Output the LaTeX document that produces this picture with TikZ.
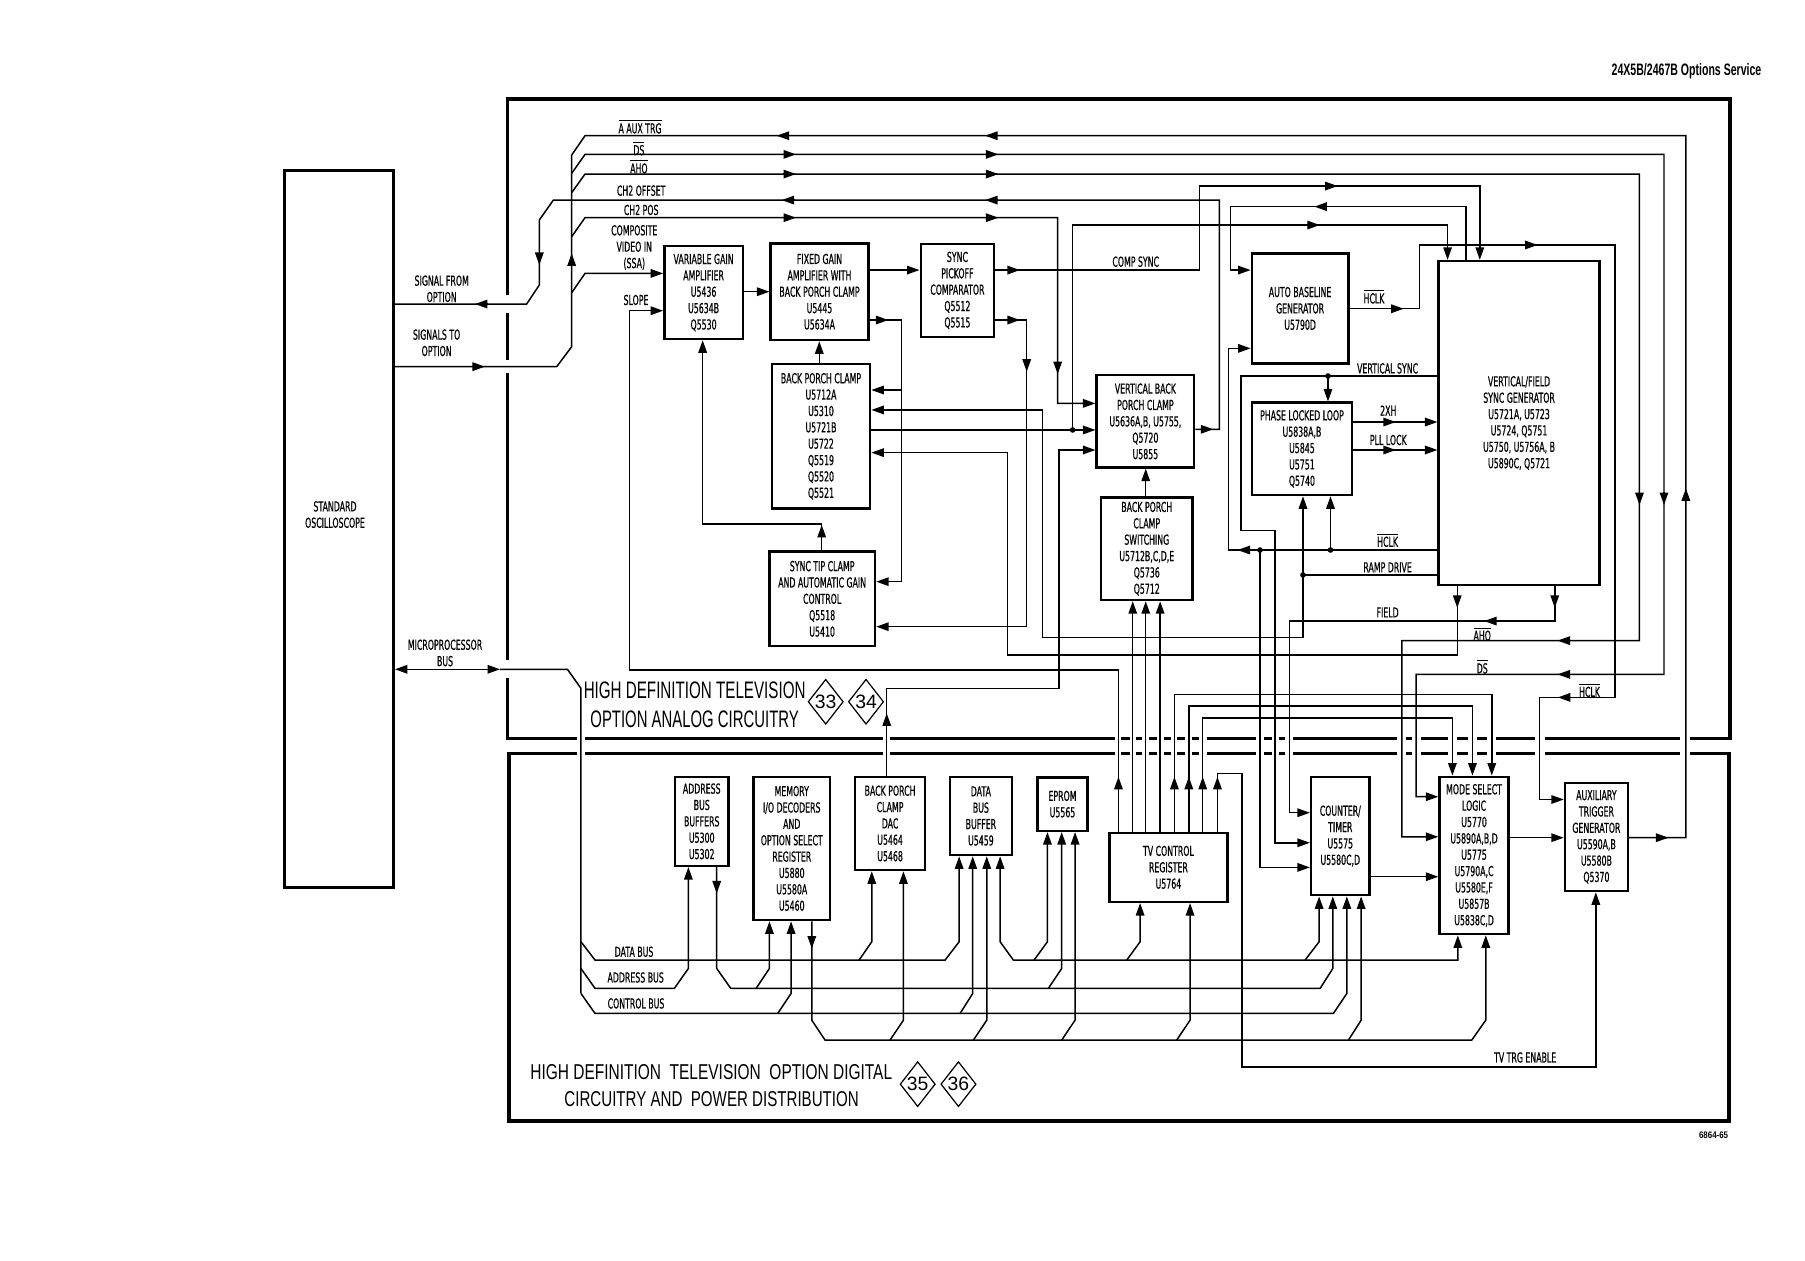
\documentclass[tikz,border=0pt]{standalone}
\usepackage{fontspec}
\newfontfamily\dinfont[FakeStretch=0.57,FakeBold=0.6]{DejaVu Sans}
\newfontfamily\ttlfont{Liberation Sans}
\usetikzlibrary{arrows.meta,shapes.geometric}
\newcommand\ovl[1]{$\overline{\hbox{#1}}$}
\tikzset{
  >={Triangle[length=2.5mm,width=1.7mm]},
  sz/.style 2 args={minimum width=#1*0.023cm,minimum height=#2*0.023cm},
  blk/.style={draw,line width=1.4pt,align=center,inner sep=0pt,font=\dinfont\fontsize{7.8}{9.3}\selectfont},
  lbl/.style={align=center,inner sep=0pt,font=\dinfont\fontsize{7.8}{9.3}\selectfont},
  sig/.style={line width=.85pt},
  tip/.style={sig,->},
  frame/.style={line width=2pt},
  pg/.style={diamond,draw,line width=.7pt,inner sep=0pt,minimum width=0.69cm,minimum height=0.9cm,font=\ttlfont\fontsize{11}{11}\selectfont}
}
\begin{document}
\begin{tikzpicture}[x=0.023cm,y=-0.023cm]
\useasboundingbox (0,0) rectangle (1568,1095);

% header and figure number
\node[anchor=base east,inner sep=0pt] (hdr) at (1530.4,65.3) {\resizebox{2.99cm}{0.24cm}{\ttlfont\bfseries 24X5B/2467B Options Service}};
\node[anchor=base,inner sep=0pt] (fignum) at (1488.6,988.9) {\resizebox{0.58cm}{0.133cm}{\ttlfont\bfseries 6864-65}};

% frames of the two boards
\draw[frame] (441,256.3) -- (441,86) -- (1503,86) -- (1503,641.5) -- (1467.7,641.5);
\draw[frame] (441,272.2) -- (441,312.7);
\draw[frame] (441,324.3) -- (441,573.3);
\draw[frame] (441,589.3) -- (441,641.5) -- (501,641.5);
\draw[frame] (501,654.5) -- (442,654.5) -- (442,974) -- (1502,974) -- (1502,654.5) -- (1467.7,654.5);
\foreach \a/\b in {508.2/767.4,773.2/968.7,973.9/981.7,986.6/991.8,998.5/1004.9,1011.2/1017.3,1022.8/1029.5,1035.3/1041.9,1048.9/1090.8,1098.4/1104.8,1111.1/1116.4,1123.6/1213.4,1221.5/1226.4,1234.2/1257.7,1265.5/1275.5,1283/1292,1299.4/1333.6,1341.7/1459.5}{
  \draw[frame] (\a,641.5) -- (\b,641.5);
  \draw[frame] (\a,654.5) -- (\b,654.5);
}

% blocks
\node[blk,sz={95}{623}] (osc) at (294.5,459.5) {};
\node[lbl] (osctxt) at (291,447) {STANDARD\\OSCILLOSCOPE};
\node[blk,sz={68.1}{80.8}] (vga) at (611.2,254.1) {VARIABLE GAIN\\AMPLIFIER\\U5436\\U5634B\\Q5530};
\node[blk,sz={84.8}{84}] (fg) at (711.9,253.4) {FIXED GAIN\\AMPLIFIER WITH\\BACK PORCH CLAMP\\U5445\\U5634A};
\node[blk,sz={63.7}{80.5}] (spc) at (831.7,252.3) {SYNC\\PICKOFF\\COMPARATOR\\Q5512\\Q5515};
\node[blk,sz={85.3}{125.3}] (bpc) at (713.2,379) {BACK PORCH CLAMP\\U5712A\\U5310\\U5721B\\U5722\\Q5519\\Q5520\\Q5521};
\node[blk,sz={91.8}{82}] (stc) at (714.2,520.2) {SYNC TIP CLAMP\\AND AUTOMATIC GAIN\\CONTROL\\Q5518\\U5410};
\node[blk,sz={84.6}{80.1}] (vbpc) at (995,366) {VERTICAL BACK\\PORCH CLAMP\\U5636A,B, U5755,\\Q5720\\U5855};
\node[blk,sz={79.3}{89.2}] (bpcs) at (996.2,476.6) {BACK PORCH\\CLAMP\\SWITCHING\\U5712B,C,D,E\\Q5736\\Q5712};
\node[blk,sz={83.8}{95.5}] (abg) at (1129.4,267.9) {AUTO BASELINE\\GENERATOR\\U5790D};
\node[blk,sz={86.9}{80.2}] (pll) at (1131,389.9) {PHASE LOCKED LOOP\\U5838A,B\\U5845\\U5751\\Q5740};
\node[blk,sz={139.6}{281.4}] (vfsg) at (1319.6,367.5) {VERTICAL/FIELD\\SYNC GENERATOR\\U5721A, U5723\\U5724, Q5751\\U5750, U5756A, B\\U5890C, Q5721};
\node[blk,sz={46.3}{77.3}] (abb) at (609.6,713.5) {ADDRESS\\BUS\\BUFFERS\\U5300\\U5302};
\node[blk,sz={66.6}{124.5}] (mio) at (687.8,737) {MEMORY\\I/O DECODERS\\AND\\OPTION SELECT\\REGISTER\\U5880\\U5580A\\U5460};
\node[blk,sz={60.8}{81}] (dac) at (773.2,715.3) {BACK PORCH\\CLAMP\\DAC\\U5464\\U5468};
\node[blk,sz={53.6}{68}] (dbb) at (852.1,708.8) {DATA\\BUS\\BUFFER\\U5459};
\node[blk,sz={43.7}{46.4}] (eprom) at (923,698.5) {EPROM\\U5565};
\node[blk,sz={102.6}{60}] (tvcr) at (1015,753.4) {TV CONTROL\\REGISTER\\U5764};
\node[blk,sz={50.6}{102.8}] (ctr) at (1164.3,726.2) {COUNTER/\\TIMER\\U5575\\U5580C,D};
\node[blk,sz={59.9}{136.6}] (msl) at (1280.5,743.1) {MODE SELECT\\LOGIC\\U5770\\U5890A,B,D\\U5775\\U5790A,C\\U5580E,F\\U5857B\\U5838C,D};
\node[blk,sz={54.5}{94.1}] (atg) at (1386.8,727) {AUXILIARY\\TRIGGER\\GENERATOR\\U5590A,B\\U5580B\\Q5370};

% board titles
\node[anchor=west,inner sep=0pt] (ttla) at (506.8,600) {\resizebox{4.43cm}{0.333cm}{\ttlfont HIGH DEFINITION TELEVISION}};
\node[anchor=west,inner sep=0pt] (ttlb) at (512.6,625) {\resizebox{4.163cm}{0.333cm}{\ttlfont OPTION ANALOG CIRCUITRY}};
\node[pg] (p33) at (717.3,609.6) {33};
\node[pg] (p34) at (752.3,609.6) {34};
\node[anchor=west,inner sep=0pt] (ttlc) at (460.4,931) {\resizebox{7.227cm}{0.3cm}{\ttlfont HIGH DEFINITION\ \ TELEVISION\ \ OPTION DIGITAL}};
\node[anchor=west,inner sep=0pt] (ttld) at (490,955) {\resizebox{5.881cm}{0.3cm}{\ttlfont CIRCUITRY AND\ \ POWER DISTRIBUTION}};
\node[pg] (p35) at (797.2,941.8) {35};
\node[pg] (p36) at (832.6,941.8) {36};

% oscilloscope links and top signal lines
\draw[sig] (vbpc.east |- 0,372.9) -- (1059.3,372.9) -- (1059.3,173.8) -- (480.7,173.8) -- (468.5,191.1) -- (468.5,247.6) -- (457.5,264.1) -- (osc.east |- 0,264.1);
\draw[sig] (osc.east |- 0,318.5) -- (483.6,318.5) -- (496.6,301.2) -- (496.6,134.7);
\draw[sig] (496.6,134.7) -- (508.2,117.9) -- (1464.5,117.9) -- (1464.5,727.7) -- (atg.east |- 0,727.7);
\draw[tip] (496.6,150.6) -- (508.2,134.1) -- (1445.5,134.1) -- (1445.5,585.8) -- (1230.2,585.8) -- (1230.2,692.1) -- (msl.west |- 0,692.1);
\draw[tip] (496.6,167.4) -- (508.2,151.2) -- (1424.2,151.2) -- (1424.2,556.5) -- (1217.8,556.5) -- (1217.8,726.9) -- (msl.west |- 0,726.9);
\draw[tip] (496.6,205.6) -- (508.2,189.1) -- (918.8,189.1) -- (918.8,350.4) -- (vbpc.west |- 0,350.4);
\draw[tip] (496.6,254.3) -- (508.2,237.5) -- (vga.west |- 0,237.5);
\draw[tip] (tvcr.north -| 971.6,0) -- (971.6,582) -- (546.7,582) -- (546.7,269.9) -- (vga.west |- 0,269.9);

% analog board
\draw[tip] (vga.east |- 0,253.4) -- (fg.west |- 0,253.4);
\draw[tip] (fg.east |- 0,234.6) -- (spc.west |- 0,234.6);
\draw[tip] (fg.east |- 0,278) -- (783.3,278) -- (783.3,505.3) -- (stc.east |- 0,505.3);
\draw[tip] (783.3,338.8) -- (bpc.east |- 0,338.8);
\draw[tip] (spc.east |- 0,234.6) -- (1041.9,234.6) -- (1041.9,161.6) -- (1285.5,161.6) -- (vfsg.north -| 1285.5,0);
\draw[tip] (spc.east |- 0,278) -- (891.9,278) -- (891.9,544.4) -- (stc.east |- 0,544.4);
\draw[tip] (bpc.east |- 0,373.5) -- (vbpc.west |- 0,373.5);
\draw[tip] (931.8,373.5) -- (931.8,195.5) -- (1257.5,195.5) -- (vfsg.north -| 1257.5,0);
\draw[tip] (bpc.north -| 711.7,0) -- (fg.south -| 711.7,0);
\draw[tip] (stc.north -| 713.8,0) -- (713.8,455.2) -- (610.4,455.2) -- (vga.south -| 610.4,0);
\draw[sig] (vfsg.west |- 0,499.5) -- (1131.9,499.5);
\draw[tip] (1131.9,553.9) -- (pll.south -| 1131.9,0);
\draw[tip] (1131.9,553.9) -- (905.8,553.9) -- (905.8,356.1) -- (bpc.east |- 0,356.1);
\draw[tip] (vfsg.south -| 1265.9,0) -- (1265.9,569) -- (875.1,569) -- (875.1,393.2) -- (bpc.east |- 0,393.2);
\draw[tip] (vfsg.south -| 1350.6,0) -- (1350.6,539.5) -- (1120.1,539.5) -- (1120.1,706) -- (ctr.west |- 0,706);
\draw[tip] (vfsg.west |- 0,326.6) -- (1078.2,326.6) -- (1078.2,461) -- (1107.7,461) -- (1107.7,732.1) -- (ctr.west |- 0,732.1);
\draw[tip] (1153.6,326.6) -- (pll.north -| 1153.6,0);
\draw[tip] (vfsg.west |- 0,477.8) -- (1067.3,477.8) -- (1067.3,302.6) -- (abg.west |- 0,302.6);
\draw[tip] (1155.8,477.8) -- (pll.south -| 1155.8,0);
\draw[tip] (1094.6,477.8) -- (1094.6,753.5) -- (ctr.west |- 0,753.5);
\draw[tip] (pll.east |- 0,366.6) -- (vfsg.west |- 0,366.6);
\draw[tip] (pll.east |- 0,390.9) -- (vfsg.west |- 0,390.9);
\draw[tip] (vfsg.north -| 1273.7,0) -- (1273.7,179.5) -- (1068.9,179.5) -- (1068.9,234.6) -- (abg.west |- 0,234.6);
\draw[tip] (abg.east |- 0,268.2) -- (1233.3,268.2) -- (1233.3,212.8) -- (1403.1,212.8) -- (1403.1,605.8) -- (1337.3,605.8) -- (1337.3,694.5) -- (atg.west |- 0,694.5);
\draw[tip] (bpcs.north -| 995.3,0) -- (vbpc.south -| 995.3,0);
\foreach \x in {984,995.3,1007.8}
  \draw[tip] (tvcr.north -| \x,0) -- (bpcs.south -| \x,0);
\draw[tip] (dac.north -| 770.3,0) -- (770.3,598) -- (920,598) -- (920,390.9) -- (vbpc.west |- 0,390.9);

% digital board
\foreach \x/\y/\t in {1020.2/603.2/1295.9,1032.7/613.4/1279.1,1044.8/623.5/1261.7}
  \draw[tip] (tvcr.north -| \x,0) -- (\x,\y) -- (\t,\y) -- (msl.north -| \t,0);
\draw[tip] (tvcr.north -| 1057.6,0) -- (1057.6,671.9) -- (1078.7,671.9) -- (1078.7,926.7) -- (1386.3,926.7) -- (atg.south -| 1386.3,0);
\draw[tip] (ctr.east |- 0,761.6) -- (msl.west |- 0,761.6);
\draw[tip] (msl.east |- 0,727.7) -- (atg.west |- 0,727.7);
\draw[sig,<->] (osc.east |- 0,581.4) -- (434.4,581.4);
\draw[sig] (434.4,581.4) -- (492.9,581.4) -- (504.7,598) -- (504.7,863);
% data bus
\draw[tip] (504.7,818.1) -- (516.9,834) -- (821,834) -- (833.2,818.1) -- (dbb.south -| 833.2,0);
\draw[tip] (746.3,834) -- (757.3,818.1) -- (dac.south -| 757.3,0);
\draw[sig,<->] (dbb.south -| 868.8,0) -- (868.8,818.1) -- (880.3,834) -- (1266.4,834) -- (msl.south -| 1266.4,0);
\draw[tip] (898.3,834) -- (909.9,818.1) -- (eprom.south -| 909.9,0);
\draw[tip] (978.8,834) -- (990.4,818.1) -- (tvcr.south -| 990.4,0);
\draw[tip] (1133.7,834) -- (1145.9,818.1) -- (ctr.south -| 1145.9,0);
% address bus
\draw[tip] (504.7,841.3) -- (516.9,858.6) -- (585.8,858.6) -- (598,841.3) -- (abb.south -| 598,0);
\draw[tip] (abb.south -| 622.6,0) -- (622.6,841.3) -- (634.8,858.6) -- (1146.8,858.6) -- (1157.8,841.3) -- (ctr.south -| 1157.8,0);
\draw[tip] (656.8,858.6) -- (668.4,841.3) -- (mio.south -| 668.4,0);
\draw[tip] (910.7,858.6) -- (922.3,841.3) -- (eprom.south -| 922.3,0);
% control bus
\draw[tip] (504.7,863) -- (516.9,880.4) -- (1158.3,880.4) -- (1170,863) -- (ctr.south -| 1170,0);
\draw[tip] (675.6,880.4) -- (687.2,863) -- (mio.south -| 687.2,0);
\draw[tip] (834,880.4) -- (845,863) -- (dbb.south -| 845,0);
% select lines
\draw[tip] (mio.south -| 705.2,0) -- (705.2,886.2) -- (716.7,903.5) -- (1278.5,903.5) -- (1290.7,886.2) -- (msl.south -| 1290.7,0);
\draw[tip] (773.2,903.5) -- (784.8,886.2) -- (dac.south -| 784.8,0);
\draw[tip] (845.6,903.5) -- (857.2,886.2) -- (dbb.south -| 857.2,0);
\draw[tip] (922.3,903.5) -- (933.9,886.2) -- (eprom.south -| 933.9,0);
\draw[tip] (1022.2,903.5) -- (1033.8,886.2) -- (tvcr.south -| 1033.8,0);
\draw[tip] (1171.4,903.5) -- (1182.4,886.2) -- (ctr.south -| 1182.4,0);

% arrowheads along the lines (tip x/y/direction)
\foreach \x/\y/\a in {674.7/117.9/180,855.7/117.9/180,679/173.8/180,855.7/173.8/180,412.6/264.1/180,
    1141.8/179.5/180,1075/477.8/180,1289.2/539.5/180,1353/556.5/180,1353/585.8/180,1353.3/605.8/180,
    691.5/134.1/0,867.3/134.1/0,691.5/151.2/0,867.3/151.2/0,691.5/189.1/0,867.3/189.1/0,
    421.3/318.5/0,771.7/278/0,886/234.6/0,886/278/0,1054/372.9/0,1162/161.6/0,1146.5/195.5/0,
    1219.4/268.2/0,1335.7/212.8/0,1212.6/366.6/0,1212.6/390.9/0,1449.4/727.7/0,
    468.5/230.2/90,918.8/325/90,891.9/322.9/90,1424.2/438.7/90,1445.5/438.7/90,1265.9/528/90,
    1350.6/528/90,622.6/776.1/90,705.2/824/90,
    496.6/220.1/270,1464.5/424.2/270,713.8/456/270,770.3/619.7/270,971.6/674.8/270,
    1020.2/674.8/270,1032.7/674.8/270,1044.8/674.8/270,1057.6/674.8/270}
  \draw[tip] (\x,\y) ++(\a:-11) -- (\x,\y);
\foreach \p in {(931.8,373.5),(1153.6,326.6),(1094.6,477.8),(1155.8,477.8),(1131.9,499.5)}
  \fill \p circle[radius=1.6pt];

% signal names
\node[lbl] (lauxtrg) at (556,110) {\ovl{A AUX TRG}};
\node[lbl] (lds) at (555,128.9) {\ovl{DS}};
\node[lbl] (laho) at (555,144.8) {\ovl{AHO}};
\node[lbl] (loffset) at (557,165.6) {CH2 OFFSET};
\node[lbl] (lpos) at (557,182.4) {CH2 POS};
\node[lbl] (lcv) at (551,215) {COMPOSITE\\VIDEO IN\\(SSA)};
\node[lbl] (lslope) at (552.5,260.6) {SLOPE};
\node[lbl] (lfrom) at (383.7,250.9) {SIGNAL FROM\\OPTION};
\node[lbl] (lto) at (379.3,297.8) {SIGNALS TO\\OPTION};
\node[lbl] (lmpu) at (386.6,567.2) {MICROPROCESSOR\\BUS};
\node[lbl] (lcomp) at (986.6,227.3) {COMP SYNC};
\node[lbl] (lhclka) at (1193.6,257.7) {\ovl{HCLK}};
\node[lbl] (lvsync) at (1205.4,320) {VERTICAL SYNC};
\node[lbl] (l2xh) at (1206,356.7) {2XH};
\node[lbl] (lpll) at (1206,382.2) {PLL LOCK};
\node[lbl] (lhclkb) at (1205.4,469.1) {\ovl{HCLK}};
\node[lbl] (lramp) at (1205.4,492.8) {RAMP DRIVE};
\node[lbl] (lfield) at (1205.4,532) {FIELD};
\node[lbl] (lahob) at (1287.6,550.7) {\ovl{AHO}};
\node[lbl] (ldsb) at (1287.6,579.1) {\ovl{DS}};
\node[lbl] (lhclkc) at (1380.8,599.5) {\ovl{HCLK}};
\node[lbl] (ldata) at (550.8,826.8) {DATA BUS};
\node[lbl] (laddr) at (552.2,849.1) {ADDRESS BUS};
\node[lbl] (lctrl) at (552.5,871.7) {CONTROL BUS};
\node[lbl] (ltvtrg) at (1324.9,918.6) {TV TRG ENABLE};
\end{tikzpicture}
\end{document}
